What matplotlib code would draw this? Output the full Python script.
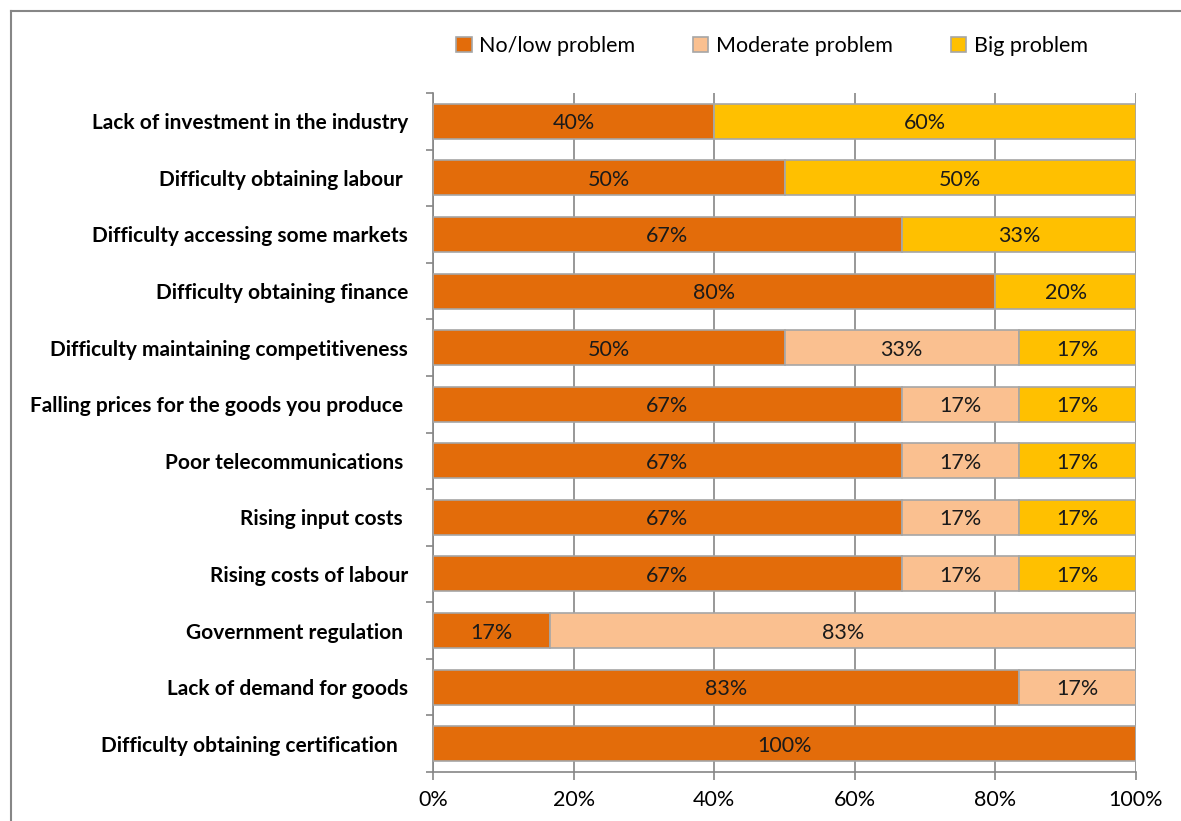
import matplotlib.pyplot as plt
import numpy as np
from matplotlib.lines import Line2D

# data
categories = ['Lack of investment in the industry', 'Difficulty obtaining labour ',
              'Difficulty accessing some markets', 'Difficulty obtaining finance',
              'Difficulty maintaining competitiveness', 'Falling prices for the goods you produce ',
              'Poor telecommunications ', 'Rising input costs ', 'Rising costs of labour',
              'Government regulation ', 'Lack of demand for goods', 'Difficulty obtaining certification  ']
no_low = [40, 50, 66.67, 80, 50, 66.67, 66.67, 66.67, 66.67, 16.67, 83.33, 100]
moderate = [0, 0, 0, 0, 33.33, 16.67, 16.67, 16.67, 16.67, 83.33, 16.67, 0]
big = [60, 50, 33.33, 20, 16.67, 16.67, 16.67, 16.67, 16.67, 0, 0, 0]
series = ['No/low problem', 'Moderate problem', 'Big problem']
colors = ['#E36C0A', '#FAC090', '#FFC000']

plt.rcParams['font.family'] = ['Lato', 'DejaVu Sans']

fig = plt.figure(figsize=(11.81, 8.21), dpi=100)
ax = fig.add_axes([433/1181, 1-772/821, (1136-433)/1181, (772-93)/821])

y = np.arange(len(categories))
left = np.zeros(len(categories))
for vals, c in zip([no_low, moderate, big], colors):
    vals = np.array(vals)
    ax.barh(y, vals, left=left, height=0.62, color=c, edgecolor='#A6A6A6', linewidth=1.2, zorder=3)
    for yi, v, l in zip(y, vals, left):
        if v > 0:
            ax.text(l + v/2, yi, f'{round(v)}%', ha='center', va='center_baseline',
                    fontsize=15.5, color='#1a1a1a', zorder=4)
    left += vals

ax.set_xlim(0, 100)
ax.set_ylim(len(categories) - 0.5, -0.5)
ax.set_xticks([0, 20, 40, 60, 80, 100])
ax.set_xticklabels([f'{t}%' for t in [0, 20, 40, 60, 80, 100]], fontsize=15.5)
ax.set_yticks(y)
ax.set_yticklabels(categories, fontsize=15, fontweight='bold')
ax.set_yticks(np.arange(len(categories) + 1) - 0.5, minor=True)
ax.tick_params(axis='y', which='major', length=0, pad=18)
ax.tick_params(axis='y', which='minor', length=5, color='#868686', width=1.2)
ax.tick_params(axis='x', length=6, color='#868686', width=1.2, pad=7)
ax.grid(axis='x', color='#868686', linewidth=1.2, zorder=0)
for s in ['top', 'right']:
    ax.spines[s].set_visible(False)
for s in ['left', 'bottom']:
    ax.spines[s].set_color('#868686')
    ax.spines[s].set_linewidth(1.2)

handles = [plt.Rectangle((0, 0), 1, 1, facecolor=c, edgecolor='#A6A6A6', linewidth=1.2) for c in colors]
fig.legend(handles, series, loc='center', bbox_to_anchor=(772/1181, 1-46/821), ncol=3,
           frameon=False, fontsize=15.5, handlelength=0.7, handleheight=0.7, handletextpad=0.35,
           columnspacing=2.7)

# outer frame
fig.add_artist(Line2D([11/1181, 11/1181], [0, 1-11/821], transform=fig.transFigure, color='#868686', linewidth=1.5))
fig.add_artist(Line2D([11/1181, 1], [1-11/821, 1-11/821], transform=fig.transFigure, color='#868686', linewidth=1.5))

fig.savefig('out.png', dpi=100)
